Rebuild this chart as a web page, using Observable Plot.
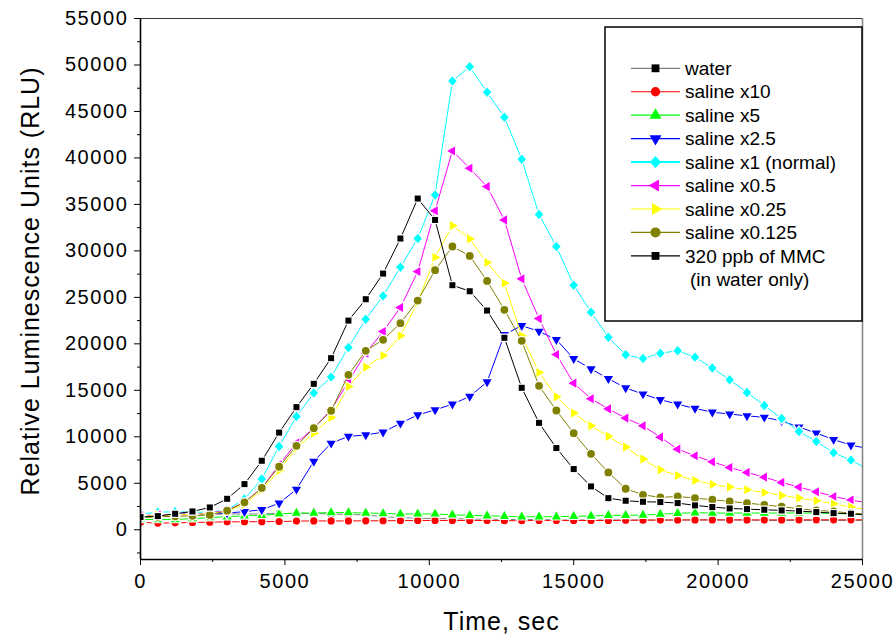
<!DOCTYPE html>
<html><head><meta charset="utf-8">
<script src="https://cdn.jsdelivr.net/npm/d3@7"></script>
<script src="https://cdn.jsdelivr.net/npm/@observablehq/plot@0.6"></script>
<style>
body{margin:0;background:#fff;}
#chart{width:893px;height:637px;position:relative;}
svg{font-family:"Liberation Sans",Arial,sans-serif;}
</style>
</head><body><div id="chart"></div>
<script>
// time points (sec)
const times = [0,600,1200,1800,2400,3000,3600,4200,4800,5400,6000,6600,7200,7800,8400,9000,9600,10200,10800,11400,12000,12600,13200,13800,14400,15000,15600,16200,16800,17400,18000,18600,19200,19800,20400,21000,21600,22200,22800,23400,24000,24600,25200];

const water   = [1500,1550,1600,1650,1650,1700,1700,1700,1750,1750,1750,1700,1650,1600,1400,1300,1250,1200,1200,1150,1150,1100,1100,1100,1050,1050,1050,1050,1050,1050,1050,1050,1050,1050,1050,1050,1000,1000,1000,1000,1000,1000,1000];
const salineX10 = [800,720,750,780,820,850,860,870,880,930,950,950,950,960,970,980,1000,1000,1000,1000,1000,980,980,1000,1000,1000,1000,1000,1020,1030,1040,1050,1060,1060,1060,1060,1060,1060,1070,1070,1070,1070,1070];
const salineX5 = [1100,1100,1100,1200,1300,1400,1500,1550,1700,1800,1800,1850,1850,1800,1750,1700,1700,1700,1600,1550,1500,1450,1400,1400,1400,1450,1470,1550,1550,1580,1670,1770,1830,1800,1800,1800,1800,1800,1800,1800,1750,1700,1700];
const salineX2_5 = [1500,1600,1650,1700,1750,1800,1950,2150,2850,4350,7350,9300,10050,10200,10500,11450,12350,12900,13500,14350,15900,21000,21950,21350,20450,18400,17300,16250,15250,14600,14000,13500,13050,12650,12450,12250,12100,11700,11050,10400,9700,9100,8730];
const salineX1 = [1700,1880,1950,1870,1900,2150,3300,5450,8960,12190,14700,16420,19610,22650,25160,28240,31330,36020,48280,49820,47060,44380,39860,33910,30470,26310,23410,20720,18820,18420,19000,19250,18570,17390,16130,14770,13370,11970,10570,9500,8280,7490,6480];
const salineX0_5 = [1500,1600,1650,1700,1800,2100,2950,4480,6990,9320,10930,12900,15950,19000,21330,23910,27780,34320,40750,38890,36920,33330,26990,22720,18850,15770,14090,13010,12010,11180,9960,8670,7960,7310,6700,6170,5660,5090,4590,4090,3580,3190,2880];
const salineX0_25 = [1450,1550,1600,1650,1750,2000,2750,4300,6380,8790,10390,12080,15410,17490,18750,20860,24440,29320,32720,31290,28750,26520,20860,16920,14300,12550,11180,10040,8890,7600,6450,5840,5310,4880,4590,4300,4010,3690,3410,3120,2800,2440,2120];
const salineX0_125 = [1300,1400,1450,1500,1600,2050,2950,4500,6780,9030,10930,12800,16670,19250,20430,22220,24660,27920,30470,29460,26770,23660,20320,15480,12830,10390,8170,6170,4410,3760,3480,3580,3410,3230,3050,2870,2670,2490,2250,2080,1970,1790,1700];
const mmc = [1370,1470,1720,1970,2400,3330,4910,7420,10450,13190,15700,18460,22500,24800,27560,31330,35630,33330,26310,25660,23580,20650,15270,11500,8790,6530,4660,3400,3120,3010,2980,2870,2620,2440,2290,2220,2150,2080,2010,1900,1790,1720,1560];

const legendLabels = ["water","saline x10","saline x5","saline x2.5","saline x1 (normal)","saline x0.5","saline x0.25","saline x0.125","320 ppb of MMC"];
const yTicks = [0,5000,10000,15000,20000,25000,30000,35000,40000,45000,50000,55000];
const yMinor = [-2500,2500,7500,12500,17500,22500,27500,32500,37500,42500,47500,52500];
const xTicks = [0,5000,10000,15000,20000,25000];
const xMinor = [2500,7500,12500,17500,22500];

// custom rotated triangles
function tri(angle){
  return {draw(ctx,size){
    const s3=Math.sqrt(3), y=-Math.sqrt(size/(s3*3));
    const pts=[[0,y*2],[-s3*y,-y],[s3*y,-y]];
    const c=Math.cos(angle), s=Math.sin(angle);
    pts.forEach(([px,py],i)=>{const X=px*c-py*s, Y=px*s+py*c; i?ctx.lineTo(X,Y):ctx.moveTo(X,Y);});
    ctx.closePath();
  }};
}
const triUp=tri(0), triDown=tri(Math.PI), triLeft=tri(-Math.PI/2), triRight=tri(Math.PI/2);
const diamond = {draw(ctx,size){const h=Math.sqrt(size/2); ctx.moveTo(0,-h*1.05); ctx.lineTo(h*0.95,0); ctx.lineTo(0,h*1.05); ctx.lineTo(-h*0.95,0); ctx.closePath();}};

const series = [
  {name:legendLabels[0], values:water, line:"#808080", fill:"#000000", symbol:d3.symbolSquare, r:3.4},
  {name:legendLabels[1], values:salineX10, line:"#ff0000", fill:"#ff0000", symbol:d3.symbolCircle, r:3.6},
  {name:legendLabels[2], values:salineX5, line:"#00ff00", fill:"#00ff00", symbol:triUp, r:3.4},
  {name:legendLabels[3], values:salineX2_5, line:"#0000ff", fill:"#0000ff", symbol:triDown, r:3.4},
  {name:legendLabels[4], values:salineX1, line:"#00ffff", fill:"#00ffff", symbol:diamond, r:3.6},
  {name:legendLabels[5], values:salineX0_5, line:"#ff00ff", fill:"#ff00ff", symbol:triLeft, r:3.4},
  {name:legendLabels[6], values:salineX0_25, line:"#ffff00", fill:"#ffff00", symbol:triRight, r:3.4},
  {name:legendLabels[7], values:salineX0_125, line:"#808000", fill:"#808000", symbol:d3.symbolCircle, r:3.9},
  {name:legendLabels[8], values:mmc, line:"#000000", fill:"#000000", symbol:d3.symbolSquare, r:3.4}
];

const marks = [];
series.forEach(s=>{
  const rows = times.map((t,i)=>({t, v:s.values[i]}));
  marks.push(Plot.line(rows,{x:"t",y:"v",stroke:s.line,strokeWidth:1,clip:true}));
  marks.push(Plot.dot(rows,{x:"t",y:"v",symbol:()=>s.symbol,fill:s.fill,stroke:"white",strokeWidth:2.4,paintOrder:"stroke",r:s.r,clip:true}));
});

const chart = Plot.plot({
  width:893, height:637,
  marginLeft:140, marginRight:31, marginTop:18, marginBottom:78,
  style:{background:"#fff",color:"#000",fontFamily:"'Liberation Sans',Arial,sans-serif"},
  symbol:{type:"identity"},
  x:{domain:[0,25000]},
  y:{domain:[-3200,55000]},
  marks:[
    ...marks,
    Plot.ruleY([55000],{stroke:"#333",strokeWidth:1.2}),
    Plot.ruleX([25000],{stroke:"#888",strokeWidth:1.6}),
    Plot.ruleX([0],{stroke:"#000",strokeWidth:1.6}),
    Plot.ruleY([-3200],{stroke:"#000",strokeWidth:1.6}),
    Plot.axisY({ticks:yTicks,tickSize:6,tickPadding:6,tickFormat:d=>String(d),fontSize:20,label:null}),
    Plot.axisY({ticks:yMinor,tickSize:3,tickFormat:()=>"",label:null}),
    Plot.axisX({ticks:xTicks,tickSize:6,tickPadding:8,tickFormat:d=>String(d),fontSize:20,label:null}),
    Plot.axisX({ticks:xMinor,tickSize:3,tickFormat:()=>"",label:null}),
    Plot.text(["Relative Luminescence Units (RLU)"],{frameAnchor:"left",dx:-110,dy:-8,rotate:-90,textAnchor:"middle",fontSize:25,fill:"#000"}),
    Plot.text(["Time, sec"],{frameAnchor:"bottom",dy:70,textAnchor:"middle",fontSize:25,fill:"#000"})
  ]
});
document.getElementById("chart").appendChild(chart);

const svg = d3.select(chart);
// slightly wider tick labels like the reference
svg.selectAll("g[aria-label='y-axis tick label'] text, g[aria-label='x-axis tick label'] text").attr("letter-spacing","1.6px");
svg.selectAll("g[aria-label='text'] text").attr("letter-spacing","1px");

// legend inside the plot area
const lg = svg.append("g").attr("text-anchor","start");
lg.append("rect").attr("x",605).attr("y",27).attr("width",257).attr("height",294)
  .attr("fill","#fff").attr("stroke","#000").attr("stroke-width",1.5);
series.forEach((s,i)=>{
  const y = 68.3 + 23.45*i;
  lg.append("line").attr("x1",631).attr("x2",680).attr("y1",y).attr("y2",y)
    .attr("stroke",s.line).attr("stroke-width",s.name===legendLabels[4]?2:1.2);
  lg.append("path").attr("transform",`translate(655.5,${y})`)
    .attr("d",d3.symbol(s.symbol, Math.PI*(s.r*1.3)**2)()).attr("fill",s.fill);
  lg.append("text").attr("x",685).attr("y",y).attr("dy","0.35em").attr("text-anchor","start")
    .attr("font-size",19).attr("fill","#000").text(s.name);
});
lg.append("text").attr("x",690).attr("y",68.3+23.45*9).attr("dy","0.35em").attr("text-anchor","start")
  .attr("font-size",19).attr("fill","#000").text("(in water only)");
</script>
</body></html>
